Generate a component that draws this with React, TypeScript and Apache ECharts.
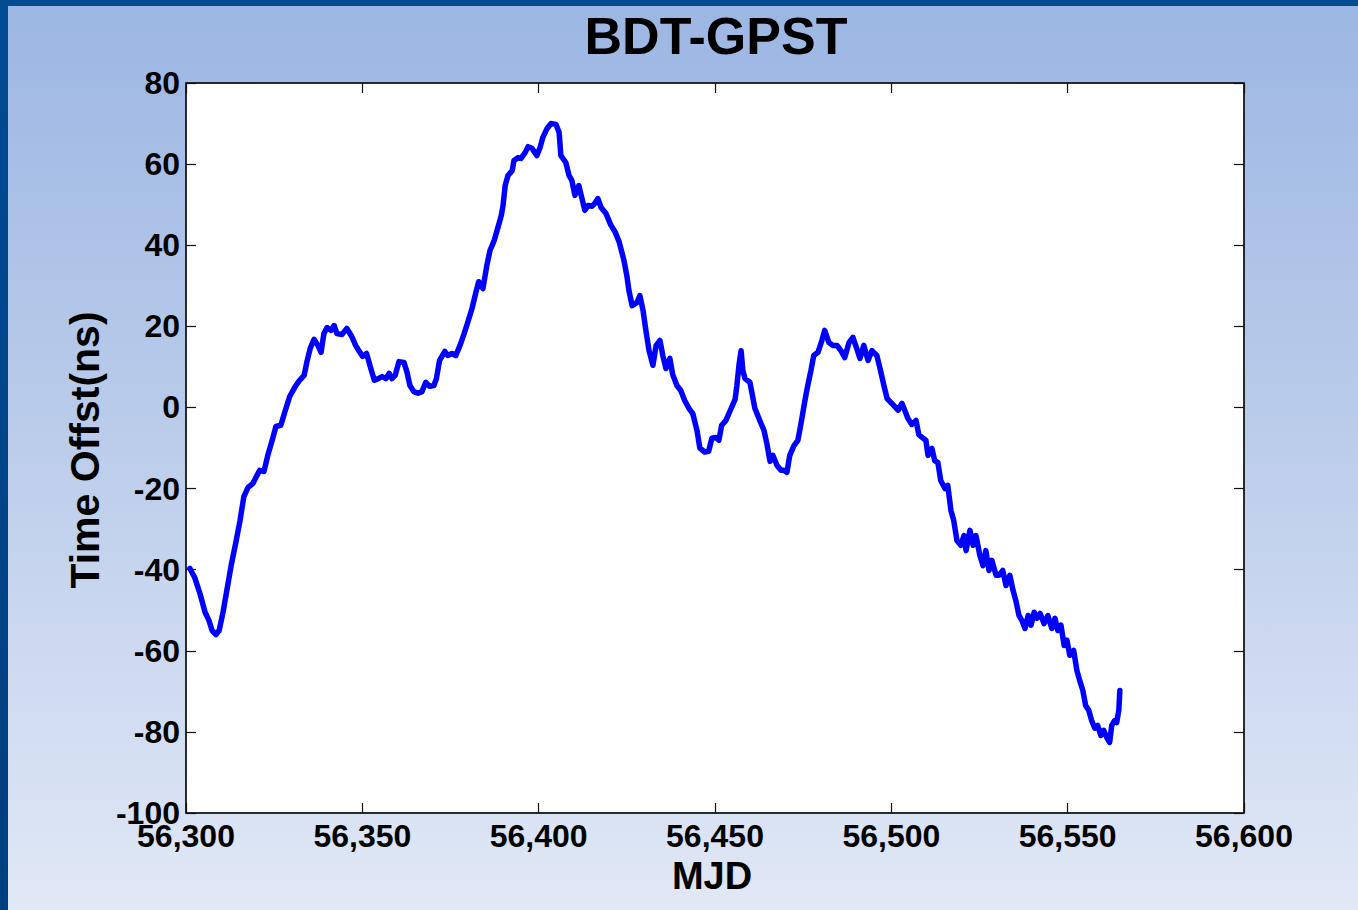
import React, { useEffect, useRef } from "react";
import * as echarts from "echarts";

const title = "BDT-GPST";
const xName = "MJD";
const yName = "Time Offst(ns)";

const xTicks = { min: 56300, max: 56600, step: 50 };
const yTicks = { min: -100, max: 80, step: 20 };

const mjd = [
  56301.1, 56302.5, 56304.0, 56305.4, 56306.5, 56307.4, 56308.5, 56309.4, 56310.5, 56311.6,
  56312.8, 56314.2, 56315.3, 56316.4, 56317.6, 56319.0, 56320.1, 56320.9, 56322.1, 56323.2,
  56324.6, 56325.5, 56326.9, 56328.0, 56329.4, 56330.8, 56332.2, 56333.5, 56334.3, 56335.2,
  56336.3, 56337.4, 56338.3, 56339.1, 56340.0, 56341.1, 56342.0, 56342.8, 56344.2, 56345.6,
  56347.0, 56348.1, 56349.0, 56350.1, 56351.2, 56352.3, 56353.4, 56354.5, 56355.6, 56356.7,
  56357.6, 56358.4, 56359.3, 56360.4, 56361.8, 56362.7, 56363.5, 56364.6, 56365.8, 56366.9,
  56368.0, 56369.1, 56370.3, 56371.0, 56371.9, 56373.4, 56374.2, 56375.4, 56376.5, 56377.7,
  56378.8, 56379.9, 56381.1, 56382.2, 56383.0, 56384.2, 56385.3, 56386.2, 56387.4, 56388.2,
  56389.4, 56389.9, 56390.5, 56391.3, 56392.5, 56393.0, 56394.2, 56395.0, 56396.2, 56397.0,
  56398.1, 56399.5, 56400.4, 56401.2, 56402.4, 56403.5, 56404.9, 56405.8, 56406.3, 56407.7,
  56408.6, 56409.4, 56410.3, 56411.4, 56412.2, 56413.1, 56414.0, 56415.1, 56415.9, 56416.8,
  56417.7, 56419.1, 56420.5, 56421.6, 56422.8, 56424.2, 56425.0, 56425.6, 56426.5, 56427.9,
  56428.7, 56429.6, 56430.4, 56431.3, 56432.4, 56433.3, 56434.4, 56435.2, 56436.1, 56437.2,
  56438.0, 56439.2, 56440.3, 56441.4, 56442.6, 56443.7, 56444.9, 56445.7, 56447.1, 56448.2,
  56449.1, 56450.2, 56451.1, 56451.9, 56453.1, 56454.2, 56455.7, 56456.2, 56456.8, 56457.4,
  56457.9, 56458.5, 56459.9, 56460.5, 56461.3, 56462.7, 56463.9, 56464.7, 56465.6, 56466.4,
  56467.6, 56468.7, 56469.5, 56470.4, 56471.2, 56472.4, 56473.5, 56474.3, 56475.5, 56476.3,
  56477.2, 56478.0, 56479.2, 56480.3, 56481.1, 56482.3, 56483.4, 56484.6, 56485.7, 56486.8,
  56488.0, 56489.1, 56490.2, 56491.1, 56492.2, 56493.4, 56494.5, 56495.9, 56496.8, 56497.9,
  56498.8, 56499.9, 56501.0, 56501.9, 56503.0, 56503.8, 56504.7, 56505.8, 56507.0, 56507.8,
  56509.0, 56509.8, 56510.4, 56511.5, 56512.3, 56513.2, 56514.0, 56515.2, 56516.0, 56516.9,
  56517.7, 56518.6, 56519.7, 56520.6, 56521.2, 56522.3, 56523.2, 56524.0, 56525.1, 56526.0,
  56526.8, 56527.7, 56528.5, 56529.7, 56530.5, 56531.6, 56532.5, 56533.6, 56534.5, 56535.3,
  56536.2, 56537.0, 56537.9, 56538.8, 56539.6, 56540.5, 56541.3, 56542.2, 56543.3, 56544.4,
  56545.5, 56546.4, 56547.2, 56548.1, 56549.0, 56549.8, 56550.6, 56551.7, 56552.6, 56553.4,
  56554.3, 56555.1, 56556.0, 56556.8, 56557.7, 56558.5, 56559.4, 56560.2, 56561.1, 56561.9,
  56562.5, 56563.3, 56563.9, 56564.5, 56564.8,
];

const offset = [
  -39.7, -42.0, -46.0, -50.5, -52.5, -55.0, -56.0, -55.0, -50.5, -45.0,
  -39.0, -33.0, -28.0, -22.0, -19.7, -18.7, -16.8, -15.5, -15.8, -11.8,
  -7.6, -4.7, -4.4, -1.2, 2.7, 4.9, 6.7, 7.9, 11.3, 14.5,
  16.8, 15.3, 13.6, 18.2, 19.7, 19.0, 20.2, 18.2, 18.0, 19.5,
  17.5, 15.3, 14.0, 12.6, 13.3, 9.9, 6.7, 7.1, 7.6, 7.1,
  8.4, 7.1, 7.9, 11.3, 11.1, 8.6, 5.4, 3.9, 3.5, 3.9,
  6.2, 5.2, 5.4, 7.1, 11.6, 13.8, 12.8, 13.3, 12.8, 15.3,
  18.0, 21.0, 24.4, 28.4, 31.0, 29.3, 35.0, 38.7, 41.2, 43.6,
  47.3, 49.8, 54.7, 57.2, 58.4, 60.9, 61.6, 61.4, 62.9, 64.3,
  63.9, 62.1, 64.1, 66.6, 68.8, 70.0, 69.8, 67.8, 62.1, 60.4,
  57.2, 56.0, 52.3, 54.7, 51.8, 48.6, 49.8, 49.6, 50.3, 51.5,
  49.3, 47.8, 44.9, 43.4, 40.9, 36.2, 32.5, 28.8, 25.1, 25.9,
  27.6, 23.9, 19.0, 14.0, 10.4, 15.3, 16.5, 12.8, 9.6, 12.1,
  8.1, 5.4, 4.2, 1.7, -0.2, -1.5, -5.7, -10.0, -11.0, -10.8,
  -7.6, -7.4, -8.1, -4.4, -3.2, -1.0, 2.0, 5.4, 10.4, 14.0,
  9.1, 7.1, 6.2, 3.5, -0.2, -3.2, -5.7, -8.9, -13.3, -11.8,
  -14.3, -15.5, -15.5, -16.0, -11.8, -9.4, -8.1, -4.4, 1.7, 5.4,
  9.1, 12.8, 13.6, 16.5, 19.0, 16.0, 15.3, 15.3, 14.0, 12.3,
  16.0, 17.3, 14.5, 12.1, 15.3, 11.6, 14.0, 12.8, 9.6, 5.4,
  2.2, 1.2, 0.2, -0.7, 1.0, -0.7, -2.7, -4.2, -3.2, -6.7,
  -7.6, -8.1, -11.8, -10.1, -13.1, -13.6, -18.0, -20.0, -19.2, -25.4,
  -27.9, -32.8, -34.0, -31.6, -35.3, -30.3, -34.0, -31.6, -36.5, -39.0,
  -35.3, -40.2, -37.7, -41.4, -41.4, -40.2, -43.9, -41.4, -45.1, -47.6,
  -51.3, -52.5, -54.5, -51.3, -53.7, -50.5, -52.0, -50.8, -53.3, -51.3,
  -54.5, -52.0, -55.0, -53.7, -58.7, -57.4, -61.1, -59.9, -64.8, -67.3,
  -69.8, -73.5, -74.7, -77.2, -79.1, -78.4, -80.9, -79.6, -81.4, -82.6,
  -78.4, -77.2, -77.7, -74.7, -69.8,
];

const FONT = "'Liberation Sans', Arial, sans-serif";

export default function App() {
  const ref = useRef<HTMLDivElement>(null);

  useEffect(() => {
    if (!ref.current) return;
    const chart = echarts.init(ref.current, undefined, { renderer: "svg" });
    const data = mjd.map((x, i) => [x, offset[i]]);
    const axisLine = { show: true, onZero: false, lineStyle: { color: "#111", width: 1.5 } };
    const tick = { show: true, inside: true, length: 10, lineStyle: { color: "#111", width: 1.2 } };
    const labelStyle = { color: "#000", fontFamily: FONT, fontWeight: "bold" as const, fontSize: 32 };
    chart.setOption({
      animation: false,
      backgroundColor: "transparent",
      grid: {
        left: 186,
        top: 83,
        width: 1058,
        height: 730,
        show: true,
        backgroundColor: "#ffffff",
        borderColor: "#111",
        borderWidth: 1,
      },
      xAxis: [
        {
          type: "value",
          min: xTicks.min,
          max: xTicks.max,
          interval: xTicks.step,
          axisLine,
          axisTick: tick,
          splitLine: { show: false },
          axisLabel: {
            ...labelStyle,
            margin: 7,
            formatter: (v: number) => v.toLocaleString("en-US"),
          },
        },
        {
          type: "value",
          position: "top",
          min: xTicks.min,
          max: xTicks.max,
          interval: xTicks.step,
          axisLine,
          axisTick: tick,
          splitLine: { show: false },
          axisLabel: { show: false },
        },
      ],
      yAxis: [
        {
          type: "value",
          min: yTicks.min,
          max: yTicks.max,
          interval: yTicks.step,
          axisLine,
          axisTick: tick,
          splitLine: { show: false },
          axisLabel: { ...labelStyle, margin: 6 },
        },
        {
          type: "value",
          position: "right",
          min: yTicks.min,
          max: yTicks.max,
          interval: yTicks.step,
          axisLine,
          axisTick: tick,
          splitLine: { show: false },
          axisLabel: { show: false },
        },
      ],
      graphic: [
        {
          type: "text",
          x: 716,
          y: 36,
          style: {
            text: title,
            fill: "#000",
            font: `bold 52px ${FONT}`,
            textAlign: "center",
            textVerticalAlign: "middle",
          },
        },
        {
          type: "text",
          x: 712,
          y: 876,
          style: {
            text: xName,
            fill: "#000",
            font: `bold 38px ${FONT}`,
            textAlign: "center",
            textVerticalAlign: "middle",
          },
        },
        {
          type: "text",
          x: 85,
          y: 450,
          rotation: Math.PI / 2,
          style: {
            text: yName,
            fill: "#000",
            font: `bold 41px ${FONT}`,
            textAlign: "center",
            textVerticalAlign: "middle",
          },
        },
      ],
      series: [
        {
          type: "line",
          data,
          showSymbol: false,
          symbol: "none",
          lineStyle: { color: "#0000ff", width: 5.5, join: "round", cap: "round" },
          xAxisIndex: 0,
          yAxisIndex: 0,
        },
      ],
    });
    return () => chart.dispose();
  }, []);

  return (
    <div
      style={{
        position: "fixed",
        left: 0,
        top: 0,
        width: 1358,
        height: 910,
        background: "linear-gradient(to bottom, #9cb6e3 0%, #b9cbea 45%, #e1e8f6 100%)",
        overflow: "hidden",
      }}
    >
      <div style={{ position: "absolute", left: 0, top: 0, width: 8, height: 910, background: "linear-gradient(to bottom, #004b93, #003f80)" }} />
      <div style={{ position: "absolute", left: 0, top: 0, width: 1358, height: 6, background: "#004b93" }} />
      <div ref={ref} style={{ position: "absolute", left: 0, top: 0, width: 1358, height: 910 }} />
    </div>
  );
}
